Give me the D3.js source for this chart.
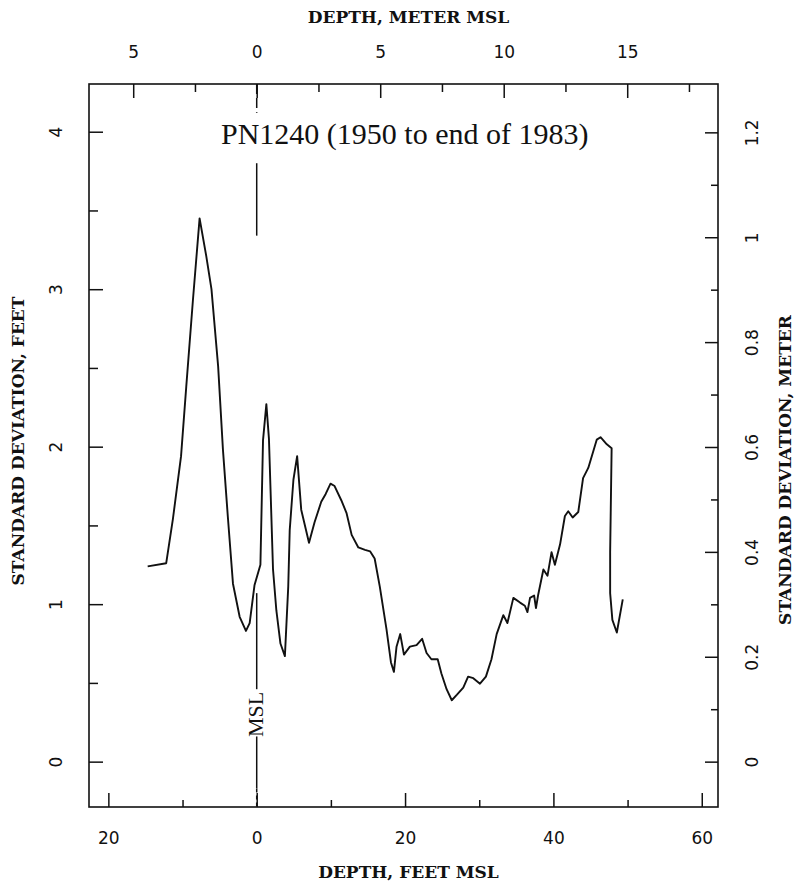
<!DOCTYPE html>
<html>
<head>
<meta charset="utf-8">
<script src="https://cdn.jsdelivr.net/npm/d3@7"></script>
<style>
  body { margin: 0; background: #fff; }
  .tick text { font-family: "DejaVu Sans", sans-serif; font-size: 17px; fill: #111; }
  .axis-title { font-family: "DejaVu Serif", serif; font-weight: bold; font-size: 17px; fill: #111; }
</style>
</head>
<body>
<div id="chart"></div>
<script>
// Depth (feet MSL) and standard deviation (feet)
const depthFt = [-14.7, -12.2, -11.3, -10.2, -9.5, -8.6, -7.7, -6.8, -6.1, -5.2,
    -4.55, -3.9, -3.2, -2.3, -1.45, -0.95, -0.3, 0.5, 0.85, 1.3,
    1.65, 2.2, 2.65, 3.2, 3.8, 4.25, 4.45, 4.95, 5.45, 6.0,
    7.05, 7.8, 8.7, 9.3, 9.95, 10.5, 11.4, 12.1, 12.8, 13.7,
    14.6, 15.3, 15.9, 16.6, 17.5, 18.1, 18.5, 18.85, 19.35, 19.85,
    20.65, 21.55, 22.3, 22.9, 23.55, 24.4, 24.9, 25.6, 26.3, 27.0,
    27.85, 28.5, 29.2, 30.1, 30.9, 31.65, 32.35, 33.25, 33.8, 34.6,
    35.5, 36.15, 36.5, 36.85, 37.4, 37.65, 37.95, 38.65, 39.2, 39.75,
    40.2, 40.9, 41.55, 42.0, 42.6, 43.35, 44.0, 44.7, 45.85, 46.35,
    47.2, 47.85, 47.65, 47.65, 47.95, 48.55, 49.35];
const sdFt = [1.24, 1.26, 1.54, 1.94, 2.38, 2.93, 3.45, 3.21, 3.0, 2.51,
    1.98, 1.56, 1.13, 0.92, 0.83, 0.88, 1.12, 1.25, 2.04, 2.27,
    2.05, 1.22, 0.96, 0.75, 0.67, 1.11, 1.47, 1.79, 1.94, 1.6,
    1.39, 1.52, 1.65, 1.70, 1.765, 1.75, 1.66, 1.58, 1.44, 1.36,
    1.345, 1.335, 1.29, 1.11, 0.84, 0.63, 0.57, 0.73, 0.81, 0.68,
    0.73, 0.74, 0.78, 0.69, 0.65, 0.65, 0.56, 0.46, 0.39, 0.425,
    0.47, 0.54, 0.53, 0.495, 0.54, 0.65, 0.81, 0.93, 0.88, 1.04,
    1.01, 0.99, 0.95, 1.04, 1.055, 0.975, 1.06, 1.22, 1.18, 1.33,
    1.25, 1.38, 1.56, 1.59, 1.55, 1.585, 1.80, 1.865, 2.045, 2.06,
    2.015, 1.99, 1.33, 1.07, 0.9, 0.82, 1.03];

const feetTicksMajor = [-20, 0, 20, 40, 60];
const feetTicksMinor = [-10, 10, 30, 50];
const meterTicksMajor = [-5, 0, 5, 10, 15];
const meterTicksMinor = [-2.5, 2.5, 7.5, 12.5, 17.5];
const sdFtTicksMajor = [0, 1, 2, 3, 4];
const sdFtTicksMinor = [0.5, 1.5, 2.5, 3.5];
const sdMTicksMajor = [0, 0.2, 0.4, 0.6, 0.8, 1, 1.2];
const sdMTicksMinor = [0.1, 0.3, 0.5, 0.7, 0.9, 1.1];
const FT_PER_M = 3.33;

const margin = { top: 84, right: 79, bottom: 81, left: 89 };
const width = 797 - margin.left - margin.right;
const height = 888 - margin.top - margin.bottom;

const svg = d3.select('#chart')
    .append('svg')
    .attr('width', 797)
    .attr('height', 888)
    .append('g')
    .attr('transform', 'translate(' + margin.left + ',' + margin.top + ')');

const x = d3.scaleLinear().domain([-22.61, 62.19]).range([0, width]);
const y = d3.scaleLinear().domain([-0.288, 4.303]).range([height, 0]);
const xM = d3.scaleLinear().domain(x.domain().map(d => d / FT_PER_M)).range([0, width]);
const yM = d3.scaleLinear().domain(y.domain().map(d => d / FT_PER_M)).range([height, 0]);

function clean(g) {
    g.select('.domain').remove();
    g.selectAll('.tick line').attr('stroke', '#111').attr('stroke-width', 1.5);
}

// bottom axis
svg.append('g').attr('transform', 'translate(0,' + height + ')')
    .call(d3.axisBottom(x).tickValues(feetTicksMajor).tickSize(-14).tickPadding(25)
        .tickFormat(d => Math.abs(d)))
    .call(clean);
svg.append('g').attr('transform', 'translate(0,' + height + ')')
    .call(d3.axisBottom(x).tickValues(feetTicksMinor).tickSize(-7).tickFormat(''))
    .call(clean);

// top axis (meters)
svg.append('g')
    .call(d3.axisTop(xM).tickValues(meterTicksMajor).tickSize(-14).tickPadding(26)
        .tickFormat(d => Math.abs(d)))
    .call(clean);
svg.append('g')
    .call(d3.axisTop(xM).tickValues(meterTicksMinor).tickSize(-8).tickFormat(''))
    .call(clean);

// left axis (feet)
svg.append('g')
    .call(d3.axisLeft(y).tickValues(sdFtTicksMajor).tickSize(-14).tickFormat(d3.format('d')))
    .call(clean)
    .call(g => g.selectAll('.tick text')
        .attr('x', 0).attr('dy', null).attr('text-anchor', 'middle')
        .attr('transform', 'translate(-27,0) rotate(-90)'));
svg.append('g')
    .call(d3.axisLeft(y).tickValues(sdFtTicksMinor).tickSize(-9).tickFormat(''))
    .call(clean);

// right axis (meters)
svg.append('g').attr('transform', 'translate(' + width + ',0)')
    .call(d3.axisRight(yM).tickValues(sdMTicksMajor).tickSize(-13).tickFormat(d3.format('~g')))
    .call(clean)
    .call(g => g.selectAll('.tick text')
        .attr('x', 0).attr('dy', null).attr('text-anchor', 'middle')
        .attr('transform', 'translate(40,0) rotate(-90)'));
svg.append('g').attr('transform', 'translate(' + width + ',0)')
    .call(d3.axisRight(yM).tickValues(sdMTicksMinor).tickSize(-7).tickFormat(''))
    .call(clean);

// frame
svg.append('rect')
    .attr('width', width).attr('height', height)
    .attr('fill', 'none').attr('stroke', '#111').attr('stroke-width', 1.6);

// MSL marker
const x0 = x(0);
function mslSeg(a, b, dash) {
    svg.append('line')
        .attr('x1', x0).attr('x2', x0)
        .attr('y1', y(a)).attr('y2', y(b))
        .attr('stroke', '#111').attr('stroke-width', 1.5)
        .attr('stroke-dasharray', dash || null);
}
mslSeg(4.303, 4.12, '10,4');
mslSeg(3.80, 3.34);
mslSeg(1.07, 0.46);
mslSeg(0.16, -0.17);
mslSeg(-0.17, -0.288, '4,3');
svg.append('text')
    .attr('transform', 'translate(' + (x0 + 6) + ',' + y(0.30) + ') rotate(-90)')
    .attr('text-anchor', 'middle')
    .style('font-family', '"Liberation Serif", serif')
    .style('font-size', '22px')
    .attr('fill', '#111')
    .text('MSL');

// curve
const pts = depthFt.map((d, i) => [d, sdFt[i]]);
svg.append('path')
    .datum(pts)
    .attr('fill', 'none')
    .attr('stroke', '#111')
    .attr('stroke-width', 1.9)
    .attr('stroke-linejoin', 'round')
    .attr('d', d3.line().x(d => x(d[0])).y(d => y(d[1])));

// chart title
svg.append('text')
    .attr('x', x(0) + 148).attr('y', 60)
    .attr('text-anchor', 'middle')
    .style('font-family', '"Liberation Serif", serif')
    .style('font-size', '30px')
    .attr('fill', '#111')
    .text('PN1240 (1950 to end of 1983)');

// axis titles
svg.append('text').attr('class', 'axis-title')
    .attr('x', width / 2 + 5).attr('y', -61)
    .attr('text-anchor', 'middle')
    .text('DEPTH, METER MSL');
svg.append('text').attr('class', 'axis-title')
    .attr('x', width / 2 + 5).attr('y', height + 71)
    .attr('text-anchor', 'middle')
    .text('DEPTH, FEET MSL');
svg.append('text').attr('class', 'axis-title')
    .attr('transform', 'translate(-65,' + (441 - margin.top) + ') rotate(-90)')
    .attr('text-anchor', 'middle')
    .text('STANDARD DEVIATION, FEET');
svg.append('text').attr('class', 'axis-title')
    .attr('transform', 'translate(' + (width + 73) + ',' + (470 - margin.top) + ') rotate(-90)')
    .attr('text-anchor', 'middle')
    .text('STANDARD DEVIATION, METER');
</script>
</body>
</html>
